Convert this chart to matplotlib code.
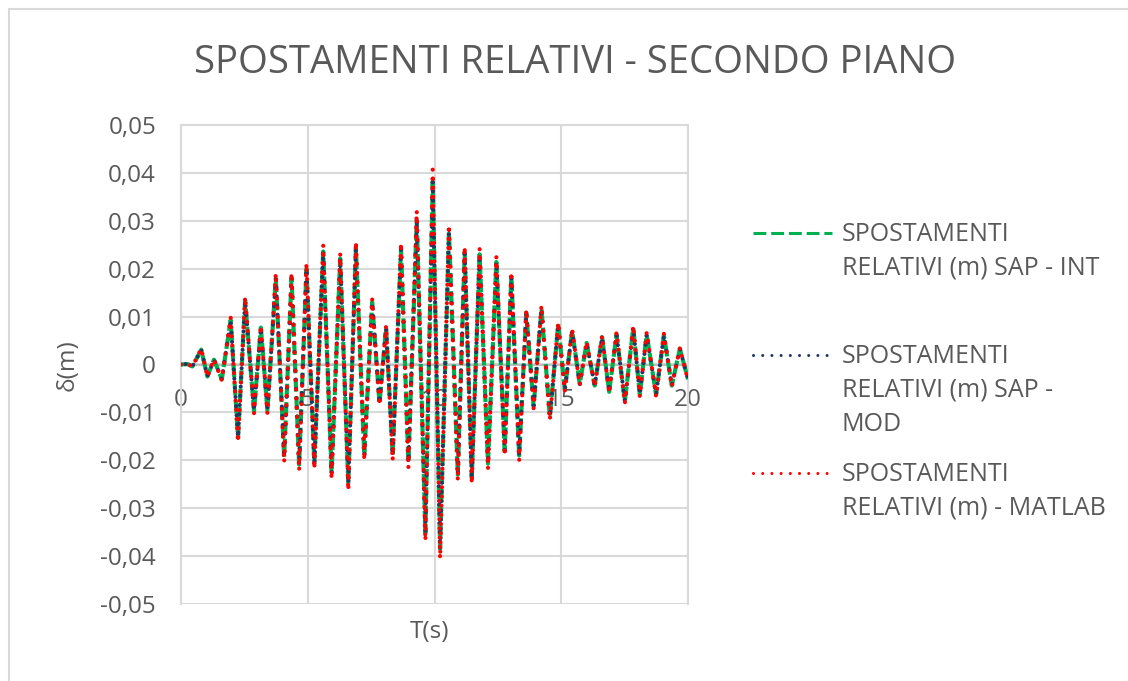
import matplotlib
matplotlib.use('Agg')
import matplotlib.pyplot as plt
from matplotlib.lines import Line2D
from matplotlib.patches import Rectangle
from matplotlib.ticker import FuncFormatter
import numpy as np

# turning points of the second-floor relative displacement (s, m)
t_s = [0.00, 0.25, 0.45, 0.80, 1.04, 1.30, 1.61, 1.96, 2.25, 2.53, 2.88, 3.15,
       3.41, 3.74, 4.07, 4.36, 4.66, 4.95, 5.26, 5.61, 5.94, 6.28, 6.60, 6.90,
       7.23, 7.54, 7.83, 8.09, 8.35, 8.68, 8.97, 9.30, 9.64, 9.93, 10.22, 10.57,
       10.92, 11.19, 11.47, 11.78, 12.11, 12.44, 12.77, 13.03, 13.34, 13.62,
       13.91, 14.22, 14.55, 14.88, 15.14, 15.43, 15.73, 16.00, 16.32, 16.61,
       16.89, 17.18, 17.51, 17.84, 18.10, 18.37, 18.74, 19.05, 19.36, 19.68,
       20.00]

disp_matlab = [0.0000, 0.0001, -0.0004, 0.0033, -0.0026, 0.0011, -0.0033,
               0.0098, -0.0162, 0.0141, -0.0102, 0.0081, -0.0102, 0.0190,
               -0.0204, 0.0191, -0.0221, 0.0211, -0.0218, 0.0249, -0.0239,
               0.0232, -0.0263, 0.0256, -0.0200, 0.0137, -0.0085, 0.0081,
               -0.0200, 0.0254, -0.0216, 0.0321, -0.0368, 0.0407, -0.0405,
               0.0291, -0.0242, 0.0246, -0.0249, 0.0242, -0.0218, 0.0225,
               -0.0190, 0.0193, -0.0200, 0.0114, -0.0092, 0.0123, -0.0116,
               0.0088, -0.0056, 0.0074, -0.0043, 0.0048, -0.0046, 0.0060,
               -0.0060, 0.0067, -0.0081, 0.0081, -0.0067, 0.0067, -0.0067,
               0.0064, -0.0046, 0.0035, -0.0033]

# SAP2000 direct integration and modal results overlap, so they share one set
disp_sap = [0.0000, 0.0001, -0.0004, 0.0031, -0.0025, 0.0010, -0.0031,
            0.0093, -0.0153, 0.0134, -0.0097, 0.0077, -0.0097, 0.0180,
            -0.0193, 0.0181, -0.0209, 0.0200, -0.0207, 0.0236, -0.0227,
            0.0221, -0.0249, 0.0243, -0.0190, 0.0130, -0.0081, 0.0077,
            -0.0190, 0.0241, -0.0205, 0.0302, -0.0352, 0.0382, -0.0385,
            0.0277, -0.0230, 0.0234, -0.0237, 0.0230, -0.0207, 0.0214,
            -0.0181, 0.0183, -0.0190, 0.0108, -0.0087, 0.0117, -0.0110,
            0.0084, -0.0053, 0.0070, -0.0041, 0.0045, -0.0044, 0.0057,
            -0.0057, 0.0063, -0.0077, 0.0077, -0.0063, 0.0063, -0.0063,
            0.0061, -0.0044, 0.0033, -0.0031]

labels = ['SPOSTAMENTI\nRELATIVI (m) SAP - INT',
          'SPOSTAMENTI\nRELATIVI (m) SAP -\nMOD',
          'SPOSTAMENTI\nRELATIVI (m) - MATLAB']

green = '#00B050'
navy = '#1F3864'
red = '#FF0000'
grey_txt = '#595959'
grid_c = '#D9D9D9'

plt.rcParams['font.family'] = ['Open Sans', 'DejaVu Sans']

fig = plt.figure(figsize=(11.28, 6.81), dpi=100)
W, H = 1128.0, 681.0

# outer chart frame
fig.add_artist(Rectangle((9 / W, -0.01), 1.1, 1 - 9 / H + 0.01, transform=fig.transFigure,
                         fill=False, edgecolor=grid_c, linewidth=1.5))

ax = fig.add_axes([181 / W, 1 - 604 / H, (688 - 181) / W, (604 - 125) / H])

lw = 3.0
ax.plot(t_s, disp_sap, color=green, lw=lw, linestyle=(0, (3.2, 1.2)),
        dash_capstyle='butt', zorder=3)
ax.plot(t_s, disp_sap, color=navy, lw=lw, linestyle=(1.1, (0.01, 2.2)),
        dash_capstyle='round', zorder=4)
ax.plot(t_s, disp_matlab, color=red, lw=lw, linestyle=(0, (0.01, 2.2)),
        dash_capstyle='round', zorder=5)

ax.set_xlim(0, 20)
ax.set_ylim(-0.05, 0.05)
ax.set_xticks(np.arange(0, 21, 5))
ax.set_yticks(np.arange(-0.05, 0.051, 0.01))
ax.yaxis.set_major_formatter(FuncFormatter(lambda v, p: ('%.2f' % v).replace('.', ',').replace('-0,00', '0').replace('0,00', '0')))
ax.grid(True, color=grid_c, linewidth=1.5, zorder=0)
ax.set_axisbelow(True)

for s in ['left', 'right', 'top']:
    ax.spines[s].set_color(grid_c)
    ax.spines[s].set_linewidth(1.5)
ax.spines['bottom'].set_position(('data', 0))
ax.spines['bottom'].set_color('#BFBFBF')
ax.spines['bottom'].set_linewidth(1.5)
ax.spines['bottom'].set_zorder(2)

ax.tick_params(axis='both', length=0, labelsize=17.5, labelcolor=grey_txt)
ax.tick_params(axis='x', pad=17)
ax.tick_params(axis='y', pad=18)

fig.text(575 / W, 1 - 63 / H, 'SPOSTAMENTI RELATIVI - SECONDO PIANO', ha='center',
         va='center', fontsize=27.5, color=grey_txt)
fig.text(68 / W, 1 - 365 / H, 'δ(m)', rotation=90, ha='center', va='center',
         fontsize=17.5, color=grey_txt)
fig.text(430 / W, 1 - 632 / H, 'T(s)', ha='center', va='center',
         fontsize=17.5, color=grey_txt)

# legend, drawn by hand so the sample sits on the first text line
leg_y = [233, 355, 473]
leg_lw = 2.2
leg_styles = [dict(color=green, linestyle=(0, (4.2, 1.6)), dash_capstyle='butt'),
              dict(color=navy, linestyle=(0, (0.01, 3)), dash_capstyle='round'),
              dict(color=red, linestyle=(0, (0.01, 3)), dash_capstyle='round')]
for y, lab, st in zip(leg_y, labels, leg_styles):
    fig.add_artist(Line2D([753 / W, 832 / W], [1 - y / H, 1 - y / H], lw=leg_lw,
                          transform=fig.transFigure, **st))
    fig.text(842 / W, 1 - (y - 11) / H, lab, ha='left', va='top', fontsize=18,
             color=grey_txt, linespacing=1.47)

fig.savefig('out.png', dpi=100)
